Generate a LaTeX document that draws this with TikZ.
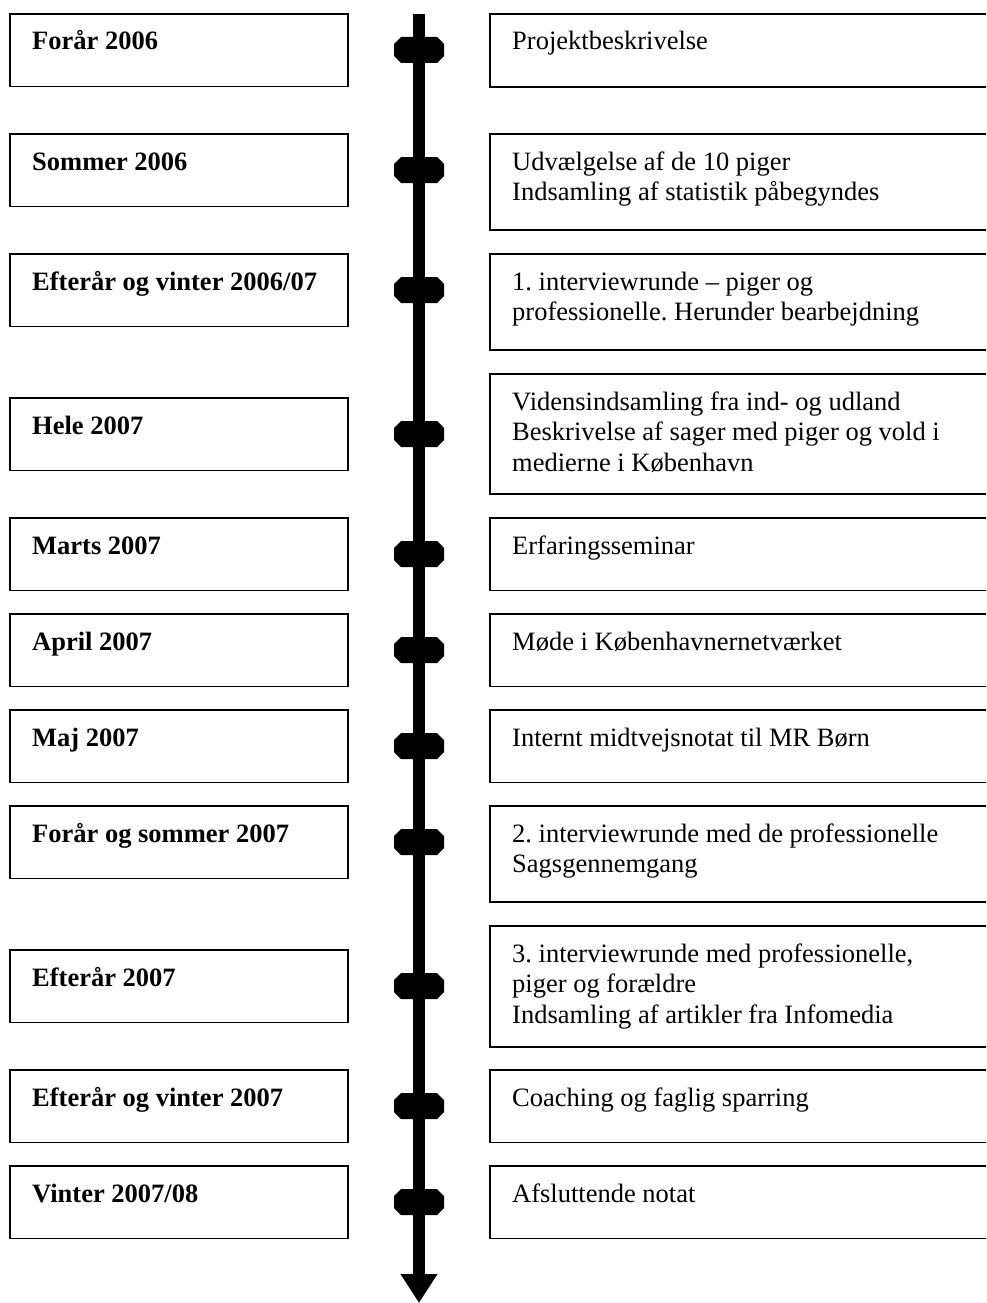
\documentclass[tikz,border=0pt]{standalone}
\usepackage{fontspec}
\setmainfont{Liberation Serif}
\usetikzlibrary{arrows.meta}
\newcommand{\boxlines}[1]{\parbox[t]{460pt}{\raggedright #1}}
\frenchspacing
\begin{document}
\begin{tikzpicture}[x=1pt,y=-1pt,
  frame/.style={draw=black,line width=1.5pt,rectangle,anchor=north west,inner sep=0pt,outer sep=0pt},
  lbox/.style={frame,minimum width=338pt,minimum height=72.5pt},
  rbox/.style={frame,minimum width=520pt},
  lab/.style={anchor=base west,inner sep=0pt,font=\fontsize{26.5}{30.6}\selectfont\bfseries\frenchspacing,xshift=22pt,yshift=-36pt},
  txt/.style={anchor=base west,inner sep=0pt,font=\fontsize{26.5}{30.6}\selectfont\frenchspacing,xshift=22pt,yshift=-36pt},
  octmark/.pic={\fill[black] (-25,-6) -- (-18,-13) -- (18,-13) -- (25,-6) -- (25,6) -- (18,13) -- (-18,13) -- (-25,6) -- cycle;},
  axis/.style={line width=12pt,-{Triangle[width=35pt,length=29pt]}}
]
\useasboundingbox (0,0) rectangle (986,1303);
\clip (0,0) rectangle (986,1303);

% left boxes
\node[lbox] (l1)  at (10,14)   {};
\node[lbox] (l2)  at (10,134)  {};
\node[lbox] (l3)  at (10,254)  {};
\node[lbox] (l4)  at (10,398)  {};
\node[lbox] (l5)  at (10,518)  {};
\node[lbox] (l6)  at (10,614)  {};
\node[lbox] (l7)  at (10,710)  {};
\node[lbox] (l8)  at (10,806)  {};
\node[lbox] (l9)  at (10,950)  {};
\node[lbox] (l10) at (10,1070) {};
\node[lbox] (l11) at (10,1166) {};

\node[lab] (lt1)  at (l1.north west)  {Forår 2006};
\node[lab] (lt2)  at (l2.north west)  {Sommer 2006};
\node[lab] (lt3)  at (l3.north west)  {Efterår og vinter 2006/07};
\node[lab] (lt4)  at (l4.north west)  {Hele 2007};
\node[lab] (lt5)  at (l5.north west)  {Marts 2007};
\node[lab] (lt6)  at (l6.north west)  {April 2007};
\node[lab] (lt7)  at (l7.north west)  {Maj 2007};
\node[lab] (lt8)  at (l8.north west)  {Forår og sommer 2007};
\node[lab] (lt9)  at (l9.north west)  {Efterår 2007};
\node[lab] (lt10) at (l10.north west) {Efterår og vinter 2007};
\node[lab] (lt11) at (l11.north west) {Vinter 2007/08};

% right boxes
\node[rbox,minimum height=73pt]  (r1)  at (490,14)   {};
\node[rbox,minimum height=96pt]  (r2)  at (490,134)  {};
\node[rbox,minimum height=96pt]  (r3)  at (490,254)  {};
\node[rbox,minimum height=120pt] (r4)  at (490,374)  {};
\node[rbox,minimum height=72.5pt] (r5)  at (490,518)  {};
\node[rbox,minimum height=72.5pt] (r6)  at (490,614)  {};
\node[rbox,minimum height=72.5pt] (r7)  at (490,710)  {};
\node[rbox,minimum height=96pt]  (r8)  at (490,806)  {};
\node[rbox,minimum height=121pt] (r9)  at (490,926)  {};
\node[rbox,minimum height=72.5pt] (r10) at (490,1070) {};
\node[rbox,minimum height=72.5pt] (r11) at (490,1166) {};

\node[txt] (rt1)  at (r1.north west)  {Projektbeskrivelse};
\node[txt] (rt2)  at (r2.north west)  {\boxlines{Udvælgelse af de 10 piger\\Indsamling af statistik påbegyndes}};
\node[txt] (rt3)  at (r3.north west)  {\boxlines{1. interviewrunde – piger og\\professionelle. Herunder bearbejdning}};
\node[txt] (rt4)  at (r4.north west)  {\boxlines{Vidensindsamling fra ind- og udland\\Beskrivelse af sager med piger og vold i\\medierne i København}};
\node[txt] (rt5)  at (r5.north west)  {Erfaringsseminar};
\node[txt] (rt6)  at (r6.north west)  {Møde i Københavnernetværket};
\node[txt] (rt7)  at (r7.north west)  {Internt midtvejsnotat til MR Børn};
\node[txt] (rt8)  at (r8.north west)  {\boxlines{2. interviewrunde med de professionelle\\Sagsgennemgang}};
\node[txt] (rt9)  at (r9.north west)  {\boxlines{3. interviewrunde med professionelle,\\piger og forældre\\Indsamling af artikler fra Infomedia}};
\node[txt] (rt10) at (r10.north west) {Coaching og faglig sparring};
\node[txt] (rt11) at (r11.north west) {Afsluttende notat};

% time axis
\coordinate (axtop) at (419,14);
\coordinate (axend) at (419,1303);
\draw[axis] (axtop) -- (axend);

\pic (m1)  at (419,50)   {octmark};
\pic (m2)  at (419,170)  {octmark};
\pic (m3)  at (419,290)  {octmark};
\pic (m4)  at (419,434)  {octmark};
\pic (m5)  at (419,554)  {octmark};
\pic (m6)  at (419,650)  {octmark};
\pic (m7)  at (419,746)  {octmark};
\pic (m8)  at (419,842)  {octmark};
\pic (m9)  at (419,986)  {octmark};
\pic (m10) at (419,1106) {octmark};
\pic (m11) at (419,1202) {octmark};
\end{tikzpicture}
\end{document}
